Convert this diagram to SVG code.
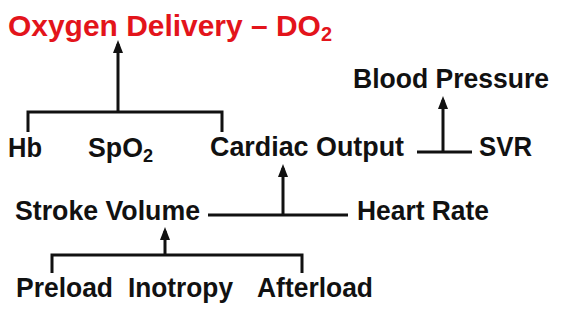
<svg xmlns="http://www.w3.org/2000/svg" width="561" height="317" viewBox="0 0 561 317">
<style>
.t{font-family:"Liberation Sans",Arial,sans-serif;font-weight:bold;font-size:28px;fill:#111}
.title{font-family:"Liberation Sans",Arial,sans-serif;font-weight:bold;font-size:30px;fill:#e3141b}
.c{fill:none;stroke:#111;stroke-width:3}
.a{marker-end:url(#ah)}
</style>
<defs>
<marker id="ah" markerUnits="userSpaceOnUse" markerWidth="13" markerHeight="10" viewBox="0 0 13 10" refX="9" refY="5" orient="auto">
<path d="M0,0 L13,5 L0,10 Z" fill="#111"/>
</marker>
</defs>
<rect width="561" height="317" fill="#fff"/>
<g id="connectors">
<path class="c" d="M28,132 V112 H222 V132"/>
<path class="c a" d="M118,112 V44"/>
<path class="c" d="M417,152 H472"/>
<path class="c a" d="M443,152 V100"/>
<path class="c" d="M208,215 H348"/>
<path class="c a" d="M283,215 V168"/>
<path class="c" d="M52,273 V255 H302 V273"/>
<path class="c a" d="M165,255 V231"/>
</g>
<g id="title"><text class="title" x="8" y="36" textLength="324" lengthAdjust="spacingAndGlyphs">Oxygen Delivery – DO<tspan font-size="20" dy="5">2</tspan></text></g>
<g id="hb"><text class="t" x="8" y="157" textLength="34" lengthAdjust="spacingAndGlyphs">Hb</text></g>
<g id="spo2"><text class="t" x="88" y="157" textLength="65" lengthAdjust="spacingAndGlyphs">SpO<tspan font-size="19" dy="5">2</tspan></text></g>
<g id="cardiac-output"><text class="t" x="210" y="156" textLength="194" lengthAdjust="spacingAndGlyphs">Cardiac Output</text></g>
<g id="svr"><text class="t" x="479" y="156" textLength="53" lengthAdjust="spacingAndGlyphs">SVR</text></g>
<g id="blood-pressure"><text class="t" x="353" y="88" textLength="196" lengthAdjust="spacingAndGlyphs">Blood Pressure</text></g>
<g id="stroke-volume"><text class="t" x="15" y="220" textLength="185" lengthAdjust="spacingAndGlyphs">Stroke Volume</text></g>
<g id="heart-rate"><text class="t" x="357" y="220" textLength="132" lengthAdjust="spacingAndGlyphs">Heart Rate</text></g>
<g id="preload"><text class="t" x="16" y="297" textLength="97" lengthAdjust="spacingAndGlyphs">Preload</text></g>
<g id="inotropy"><text class="t" x="128" y="297" textLength="105" lengthAdjust="spacingAndGlyphs">Inotropy</text></g>
<g id="afterload"><text class="t" x="257" y="297" textLength="116" lengthAdjust="spacingAndGlyphs">Afterload</text></g>
</svg>
